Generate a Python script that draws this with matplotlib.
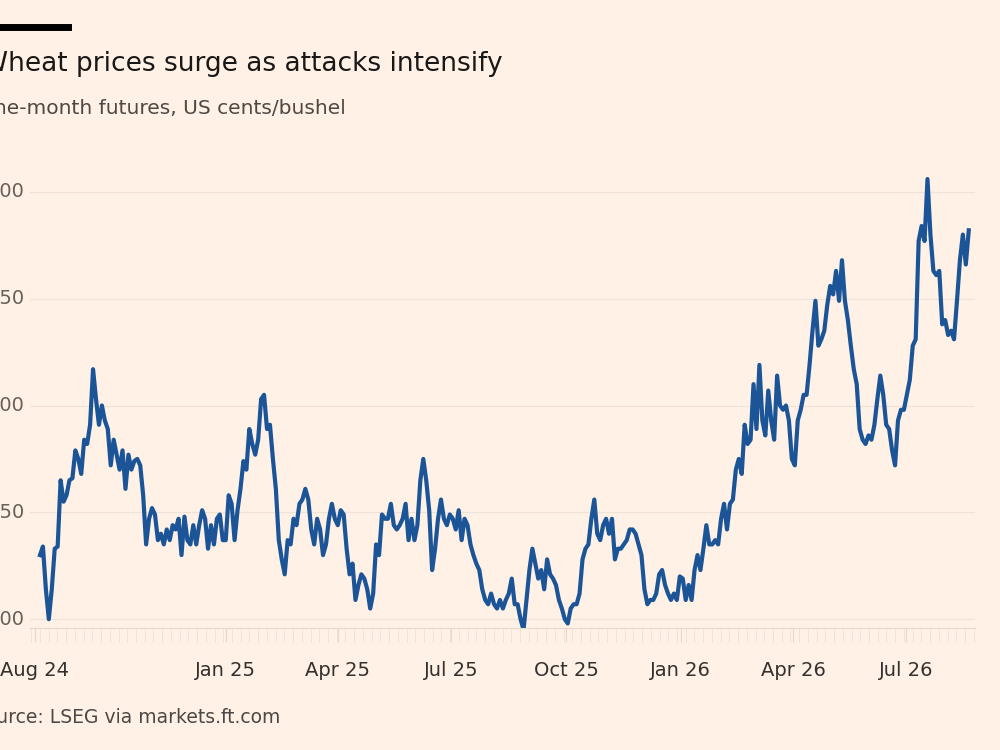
import numpy as np
import pandas as pd
import matplotlib
matplotlib.use("Agg")
import matplotlib.pyplot as plt
import matplotlib.dates as mdates

# Front-month wheat futures, US cents/bushel
prices = [
    530, 534, 514, 500, 514, 533, 534, 565, 555, 558, 565, 566, 579, 575, 568, 584, 582, 591, 617, 603,
    591, 600, 593, 589, 572, 584, 577, 570, 579, 561, 577, 570, 574, 575, 572, 558, 535, 547, 552, 549,
    537, 540, 535, 542, 537, 544, 542, 547, 530, 548, 537, 535, 544, 535, 544, 551, 547, 533, 544, 535,
    547, 549, 537, 537, 558, 554, 537, 551, 561, 574, 570, 589, 582, 577, 584, 603, 605, 589, 591, 575,
    561, 537, 528, 521, 537, 535, 547, 544, 554, 556, 561, 556, 542, 535, 547, 542, 530, 535, 547, 554,
    547, 544, 551, 549, 533, 521, 526, 509, 516, 521, 519, 514, 505, 512, 535, 530, 549, 547, 547, 554,
    544, 542, 544, 547, 554, 537, 547, 537, 544, 565, 575, 565, 551, 523, 533, 547, 556, 547, 544, 549,
    547, 542, 551, 537, 547, 544, 535, 530, 526, 523, 514, 509, 507, 512, 507, 505, 509, 505, 509, 512,
    519, 507, 507, 500, 495, 509, 523, 533, 526, 519, 523, 514, 528, 521, 519, 516, 509, 505, 500, 498,
    505, 507, 507, 512, 528, 533, 535, 547, 556, 540, 537, 544, 547, 540, 547, 528, 533, 533, 535, 537,
    542, 542, 540, 535, 530, 514, 507, 509, 509, 512, 521, 523, 516, 512, 509, 512, 509, 520, 519, 509,
    516, 509, 523, 530, 523, 533, 544, 535, 535, 537, 535, 547, 554, 542, 554, 556, 570, 575, 568, 591,
    582, 584, 610, 589, 619, 593, 586, 607, 593, 584, 614, 600, 598, 600, 593, 575, 572, 593, 598, 605,
    605, 619, 635, 649, 628, 631, 635, 647, 656, 652, 663, 649, 668, 649, 640, 628, 617, 610, 589, 584,
    582, 586, 584, 591, 603, 614, 605, 591, 589, 579, 572, 593, 598, 598, 605, 612, 628, 631, 677, 684,
    677, 706, 680, 663, 661, 663, 638, 640, 633, 635, 631, 649, 668, 680, 666, 682,
]
dates = pd.date_range("2024-08-05", "2026-08-20", periods=len(prices))

tick_dates = pd.to_datetime(["2024-08-01", "2025-01-01", "2025-04-01", "2025-07-01",
                             "2025-10-01", "2026-01-01", "2026-04-01", "2026-07-01"])
tick_labels = ["Aug 24", "Jan 25", "Apr 25", "Jul 25", "Oct 25", "Jan 26", "Apr 26", "Jul 26"]
y_ticks = [500, 550, 600, 650, 700]

bg = "#FFF1E5"
fig = plt.figure(figsize=(10, 7.5), dpi=100, facecolor=bg)
ax = fig.add_axes([0.03, 0.163, 0.945, 0.604], facecolor=bg)

ax.plot(dates, prices, color="#1B5598", linewidth=3, solid_joinstyle="round")
ax.set_ylim(496, 708)
ax.set_xlim(pd.Timestamp("2024-07-28"), pd.Timestamp("2026-08-25"))

for v in y_ticks:
    ax.axhline(v, color="#EFE3D8", linewidth=0.9, zorder=0)
    ax.text(-0.045, v, str(v), transform=ax.get_yaxis_transform(), ha="left", va="center",
            fontsize=14, color="#66605C")
ax.set_yticks([])

ax.set_xticks(tick_dates)
ax.set_xticklabels(tick_labels, fontsize=14, color="#33302E")
ax.xaxis.set_minor_locator(mdates.WeekdayLocator(byweekday=mdates.MO))
ax.tick_params(axis="x", which="major", length=10, color="#E5D8CC", pad=14)
ax.tick_params(axis="x", which="minor", length=10, color="#EDE0D4")
for s in ["top", "right", "left"]:
    ax.spines[s].set_visible(False)
ax.spines["bottom"].set_color("#E5D8CC")

fig.add_artist(plt.Line2D([0.0, 0.068], [0.964, 0.964], color="black", linewidth=5))
fig.text(-0.018, 0.915, "Wheat prices surge as attacks intensify", fontsize=19, color="#1A1817",
         va="center", ha="left")
fig.text(-0.022, 0.855, "One-month futures, US cents/bushel", fontsize=14.5, color="#4D4845",
         va="center", ha="left")
fig.text(-0.027, 0.043, "Source: LSEG via markets.ft.com", fontsize=13.5, color="#4D4845",
         va="center", ha="left")

fig.savefig("out.png", dpi=100, facecolor=bg)
